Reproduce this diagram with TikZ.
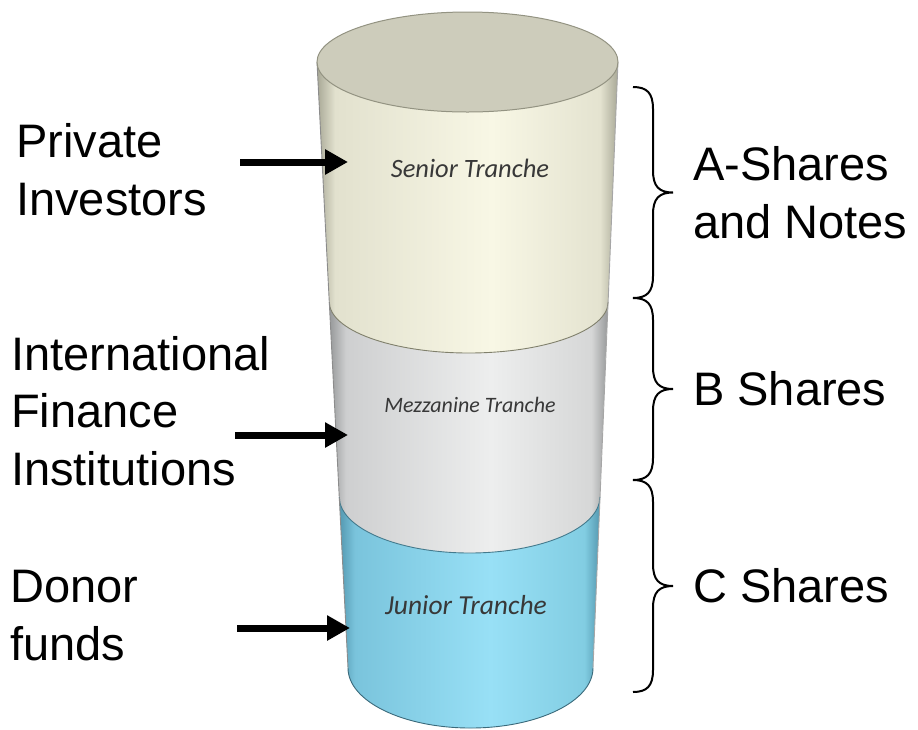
\documentclass[tikz,border=0pt]{standalone}
\usepackage{fontspec}
\setmainfont{Liberation Sans}
\newfontfamily\tranchefont{Carlito}
\usepackage{tikz}
\usetikzlibrary{positioning,arrows.meta}

% --- tranche colours (edge / left / middle / right) --------------------------
\definecolor{senE}{RGB}{168,168,150}
\definecolor{senL}{RGB}{226,225,206}
\definecolor{senM}{RGB}{248,247,229}
\definecolor{senR}{RGB}{228,227,208}
\definecolor{mezE}{RGB}{150,152,153}
\definecolor{mezL}{RGB}{206,207,208}
\definecolor{mezM}{RGB}{237,238,238}
\definecolor{mezR}{RGB}{214,215,215}
\definecolor{junE}{RGB}{84,152,176}
\definecolor{junL}{RGB}{122,196,220}
\definecolor{junM}{RGB}{152,224,246}
\definecolor{junR}{RGB}{130,205,226}
\definecolor{lidc}{RGB}{205,204,187}
\definecolor{rimc}{RGB}{128,128,108}

\pgfdeclarehorizontalshading{senshade}{100bp}{color(0bp)=(senE); color(25bp)=(senE);
  color(28bp)=(senL); color(54bp)=(senM); color(72bp)=(senR); color(75bp)=(senE); color(100bp)=(senE)}
\pgfdeclarehorizontalshading{mezshade}{100bp}{color(0bp)=(mezE); color(25bp)=(mezE);
  color(28bp)=(mezL); color(54bp)=(mezM); color(72bp)=(mezR); color(75bp)=(mezE); color(100bp)=(mezE)}
\pgfdeclarehorizontalshading{junshade}{100bp}{color(0bp)=(junE); color(25bp)=(junE);
  color(28bp)=(junL); color(54bp)=(junM); color(72bp)=(junR); color(75bp)=(junE); color(100bp)=(junE)}

% curly brace on the right: name, top y, bottom y (tip becomes coordinate #1)
\newcommand{\sharebrace}[3]{%
  \pgfmathsetmacro{\bmid}{(#2+#3)/2}
  \coordinate (#1) at (673,\bmid);
  \draw[brc] (633,#2) .. controls (647,#2) and (653,#2+6) .. (653,#2+22)
    -- (653,\bmid-22) .. controls (653,\bmid-6) and (659,\bmid) .. (#1)
    .. controls (659,\bmid) and (653,\bmid+6) .. (653,\bmid+22)
    -- (653,#3-22) .. controls (653,#3-6) and (647,#3) .. (633,#3);
}

\begin{document}
\begin{tikzpicture}[
    x=1pt,y=-1pt,
    lbl/.style={font=\fontsize{47}{57.5}\selectfont,align=left,inner sep=0pt},
    tr/.style={font=\tranchefont\itshape\fontsize{26.5}{30}\selectfont,
               text=black!78,inner sep=0pt},
    feed/.style={line width=7pt,-{Triangle[length=23pt,width=24pt]}},
    rim/.style={draw=rimc,line width=0.9pt},
    brc/.style={draw=black,line width=2pt},
    node distance=20pt]
  \useasboundingbox (0,0) rectangle (918,729);

  % cylinder, bottom tranche first
  \shade[shading=junshade] (339.3,497) -- (348,668)
      arc[start angle=180,end angle=0,x radius=122.5,y radius=60] -- (600,497) -- cycle;
  \shade[shading=mezshade] (329.3,302) -- (339.3,497)
      arc[start angle=180,end angle=0,x radius=130.3,y radius=56] -- (608,302) -- cycle;
  \shade[shading=senshade] (317,62) -- (329.3,302)
      arc[start angle=180,end angle=0,x radius=139.4,y radius=51] -- (618,62) -- cycle;
  \draw[rim] (329.3,302) arc[start angle=180,end angle=0,x radius=139.4,y radius=51];
  \draw[rim,draw=junE!80!black] (339.3,497)
      arc[start angle=180,end angle=0,x radius=130.3,y radius=56];
  \draw[rim,draw=junE!70!black] (348,668)
      arc[start angle=180,end angle=0,x radius=122.5,y radius=60];
  \draw[rim,draw=black!45] (317,62) -- (348,668);
  \draw[rim,draw=black!35] (618,62) -- (593,668);
  \filldraw[fill=lidc,draw=rimc!85,line width=1pt] (467.5,62) ellipse[x radius=150.5,y radius=50];

  \node[tr] (senior) at (470,168) {Senior Tranche};
  \node[tr,font=\tranchefont\itshape\fontsize{22}{26}\selectfont] (mezz) at (470,405)
       {Mezzanine Tranche};
  \node[tr,font=\tranchefont\itshape\fontsize{27.5}{30}\selectfont] (junior) at (466,605)
       {Junior Tranche};

  % investors and their arrows
  \node[lbl,anchor=west] (priv)  at (16,169.6) {Private\\Investors};
  \node[lbl,anchor=west] (ifi)   at (11,411)   {International\\Finance\\Institutions};
  \node[lbl,anchor=west] (donor) at (10,615.6) {Donor\\funds};

  \coordinate (priv-s)  at (240,162);  \coordinate (priv-e)  at (348,162);
  \coordinate (ifi-s)   at (235,435);  \coordinate (ifi-e)   at (348,435);
  \coordinate (donor-s) at (237,628);  \coordinate (donor-e) at (350,628);
  \draw[feed] (priv-s)  -- (priv-e);
  \draw[feed] (ifi-s)   -- (ifi-e);
  \draw[feed] (donor-s) -- (donor-e);

  % share classes
  \sharebrace{tipA}{87}{298}
  \sharebrace{tipB}{298}{480}
  \sharebrace{tipC}{480}{692}
  \node[lbl,right=of tipA] (ashr) {A-Shares\\and Notes};
  \node[lbl,right=of tipB] (bshr) {B Shares};
  \node[lbl,right=of tipC] (cshr) {C Shares};
\end{tikzpicture}
\end{document}
